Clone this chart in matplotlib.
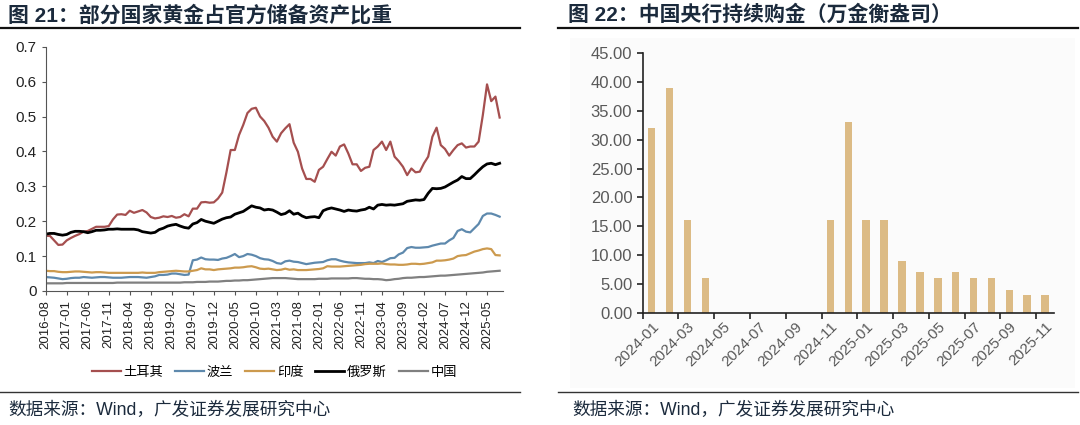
import matplotlib
matplotlib.use('Agg')
import matplotlib.pyplot as plt
from matplotlib.lines import Line2D
from matplotlib.patches import Rectangle
import numpy as np

plt.rcParams['font.family'] = ['Liberation Sans', 'Noto Sans CJK SC', 'DejaVu Sans']

# ---- left chart: gold share of official reserves (monthly, 2016-08 .. 2025-08)
left_ticklabels = ['2016-08', '2017-01', '2017-06', '2017-11', '2018-04', '2018-09',
                   '2019-02', '2019-07', '2019-12', '2020-05', '2020-10', '2021-03',
                   '2021-08', '2022-01', '2022-06', '2022-11', '2023-04', '2023-09',
                   '2024-02', '2024-07', '2024-12', '2025-05']

turkey = [0.158, 0.158, 0.145, 0.132, 0.133, 0.145, 0.152, 0.158, 0.163, 0.170,
          0.172, 0.178, 0.184, 0.184, 0.184, 0.186, 0.205, 0.219, 0.220, 0.218,
          0.230, 0.224, 0.228, 0.232, 0.225, 0.212, 0.208, 0.210, 0.214, 0.212,
          0.215, 0.210, 0.212, 0.220, 0.214, 0.236, 0.236, 0.254, 0.255, 0.253,
          0.254, 0.265, 0.282, 0.340, 0.404, 0.404, 0.447, 0.476, 0.510, 0.522,
          0.525, 0.500, 0.487, 0.468, 0.442, 0.428, 0.452, 0.466, 0.478, 0.425,
          0.399, 0.351, 0.321, 0.321, 0.313, 0.347, 0.356, 0.378, 0.399, 0.388,
          0.414, 0.420, 0.394, 0.363, 0.363, 0.344, 0.353, 0.356, 0.404, 0.414,
          0.428, 0.404, 0.428, 0.385, 0.372, 0.356, 0.332, 0.351, 0.340, 0.342,
          0.366, 0.385, 0.442, 0.468, 0.418, 0.407, 0.388, 0.404, 0.418, 0.423,
          0.411, 0.414, 0.414, 0.428, 0.504, 0.592, 0.544, 0.557, 0.497]

poland = [0.040, 0.039, 0.038, 0.036, 0.034, 0.035, 0.037, 0.038, 0.038, 0.040,
          0.039, 0.038, 0.039, 0.040, 0.040, 0.039, 0.038, 0.038, 0.038, 0.039,
          0.040, 0.040, 0.040, 0.039, 0.038, 0.040, 0.042, 0.046, 0.046, 0.047,
          0.050, 0.050, 0.048, 0.046, 0.047, 0.088, 0.090, 0.096, 0.091, 0.090,
          0.090, 0.089, 0.093, 0.095, 0.100, 0.106, 0.097, 0.100, 0.106, 0.104,
          0.100, 0.094, 0.091, 0.090, 0.086, 0.080, 0.078, 0.085, 0.087, 0.084,
          0.083, 0.080, 0.077, 0.079, 0.081, 0.082, 0.083, 0.088, 0.091, 0.091,
          0.087, 0.084, 0.082, 0.081, 0.080, 0.080, 0.080, 0.082, 0.080, 0.086,
          0.083, 0.088, 0.094, 0.095, 0.105, 0.110, 0.123, 0.126, 0.124, 0.124,
          0.125, 0.126, 0.130, 0.133, 0.136, 0.136, 0.145, 0.152, 0.172, 0.177,
          0.170, 0.168, 0.180, 0.192, 0.215, 0.222, 0.222, 0.218, 0.213]

india = [0.058, 0.057, 0.057, 0.055, 0.054, 0.054, 0.055, 0.056, 0.056, 0.055,
         0.054, 0.053, 0.054, 0.054, 0.053, 0.052, 0.052, 0.052, 0.052, 0.052,
         0.052, 0.052, 0.052, 0.053, 0.052, 0.052, 0.052, 0.054, 0.055, 0.056,
         0.057, 0.058, 0.057, 0.056, 0.056, 0.058, 0.060, 0.065, 0.062, 0.062,
         0.060, 0.062, 0.063, 0.064, 0.065, 0.067, 0.067, 0.068, 0.070, 0.071,
         0.068, 0.064, 0.063, 0.064, 0.062, 0.060, 0.061, 0.064, 0.061, 0.062,
         0.060, 0.060, 0.060, 0.061, 0.062, 0.063, 0.065, 0.071, 0.070, 0.070,
         0.070, 0.071, 0.072, 0.073, 0.074, 0.075, 0.077, 0.078, 0.078, 0.078,
         0.079, 0.077, 0.076, 0.076, 0.075, 0.075, 0.076, 0.078, 0.078, 0.077,
         0.078, 0.080, 0.082, 0.087, 0.087, 0.088, 0.090, 0.093, 0.100, 0.102,
         0.103, 0.108, 0.113, 0.116, 0.120, 0.122, 0.120, 0.103, 0.102]

russia = [0.163, 0.165, 0.165, 0.162, 0.160, 0.162, 0.168, 0.171, 0.171, 0.170,
          0.167, 0.170, 0.174, 0.174, 0.175, 0.177, 0.177, 0.178, 0.177, 0.177,
          0.177, 0.177, 0.175, 0.170, 0.168, 0.166, 0.168, 0.176, 0.180, 0.186,
          0.189, 0.191, 0.186, 0.182, 0.180, 0.192, 0.196, 0.205, 0.200, 0.197,
          0.194, 0.200, 0.206, 0.210, 0.212, 0.220, 0.224, 0.228, 0.236, 0.244,
          0.240, 0.238, 0.232, 0.234, 0.232, 0.226, 0.219, 0.222, 0.230, 0.220,
          0.223, 0.215, 0.210, 0.212, 0.213, 0.210, 0.230, 0.235, 0.238, 0.235,
          0.232, 0.228, 0.232, 0.230, 0.229, 0.232, 0.234, 0.240, 0.235, 0.246,
          0.248, 0.246, 0.247, 0.246, 0.248, 0.250, 0.257, 0.259, 0.261, 0.260,
          0.262, 0.280, 0.294, 0.293, 0.294, 0.298, 0.305, 0.312, 0.318, 0.328,
          0.322, 0.322, 0.333, 0.345, 0.356, 0.364, 0.366, 0.362, 0.366]

china = [0.022, 0.022, 0.022, 0.022, 0.022, 0.023, 0.023, 0.023, 0.023, 0.023,
         0.023, 0.023, 0.023, 0.023, 0.023, 0.023, 0.023, 0.024, 0.024, 0.024,
         0.024, 0.024, 0.024, 0.024, 0.024, 0.024, 0.024, 0.024, 0.024, 0.024,
         0.024, 0.024, 0.024, 0.025, 0.025, 0.025, 0.026, 0.026, 0.026, 0.027,
         0.027, 0.027, 0.028, 0.029, 0.029, 0.030, 0.030, 0.031, 0.031, 0.032,
         0.033, 0.034, 0.035, 0.036, 0.037, 0.037, 0.037, 0.037, 0.036, 0.035,
         0.034, 0.034, 0.034, 0.034, 0.034, 0.035, 0.035, 0.035, 0.036, 0.036,
         0.036, 0.036, 0.036, 0.037, 0.037, 0.036, 0.035, 0.035, 0.034, 0.034,
         0.033, 0.031, 0.032, 0.034, 0.035, 0.037, 0.038, 0.038, 0.039, 0.040,
         0.040, 0.041, 0.042, 0.043, 0.044, 0.044, 0.045, 0.046, 0.047, 0.048,
         0.049, 0.050, 0.051, 0.052, 0.053, 0.055, 0.056, 0.057, 0.058]

series_names = ['土耳其', '波兰', '印度', '俄罗斯', '中国']
series_colors = ['#a54f4f', '#5e89ad', '#cc9a4e', '#000000', '#808080']

# ---- right chart: PBoC gold purchases (10k troy oz)
months = ['2024-01', '2024-02', '2024-03', '2024-04', '2024-05', '2024-06',
          '2024-07', '2024-08', '2024-09', '2024-10', '2024-11', '2024-12',
          '2025-01', '2025-02', '2025-03', '2025-04', '2025-05', '2025-06',
          '2025-07', '2025-08', '2025-09', '2025-10', '2025-11']
purchases = [32, 39, 16, 6, 0, 0, 0, 0, 0, 0, 16, 33,
             16, 16, 9, 7, 6, 7, 6, 6, 4, 3, 3]

title_color = '#1b2a3c'

fig = plt.figure(figsize=(10.8, 4.25), dpi=100)

# light background behind the right panel
fig.patches.append(Rectangle((570 / 1080, 1 - 388 / 425), 505 / 1080, 350 / 425,
                             transform=fig.transFigure, facecolor='#fbfbfb',
                             edgecolor='none', zorder=-10))

# titles and rules
fig.text(8 / 1080, 1 - 15 / 425, '图 21：部分国家黄金占官方储备资产比重', fontsize=15,
         fontweight='bold', color=title_color, va='center', ha='left')
fig.text(568 / 1080, 1 - 15 / 425, '图 22：中国央行持续购金（万金衡盎司）', fontsize=15,
         fontweight='bold', color=title_color, va='center', ha='left')
for x0, x1 in [(0, 520), (558, 1078)]:
    fig.add_artist(Line2D([x0 / 1080, x1 / 1080], [1 - 28 / 425] * 2, color='#111111', lw=1.6))
    fig.add_artist(Line2D([x0 / 1080, x1 / 1080], [1 - 392 / 425] * 2, color='#333333', lw=1.0))
fig.text(8 / 1080, 1 - 410 / 425, '数据来源：Wind，广发证券发展研究中心', fontsize=12.7,
         color=title_color, va='center', ha='left')
fig.text(572 / 1080, 1 - 410 / 425, '数据来源：Wind，广发证券发展研究中心', fontsize=12.7,
         color=title_color, va='center', ha='left')

# ---- left axes
ax1 = fig.add_axes([45.7 / 1080, 1 - 291 / 425, (503 - 45.7) / 1080, (291 - 46.7) / 425])
ax1.patch.set_alpha(0)
x = np.arange(len(turkey))
for vals, name, col in zip([turkey, poland, india, russia, china], series_names, series_colors):
    ax1.plot(x, vals, color=col, lw=2.0 if name == '俄罗斯' else 1.6, label=name)
ax1.set_xlim(0, len(turkey) - 0.2)
ax1.set_ylim(0, 0.7)
ax1.set_yticks(np.arange(0, 0.71, 0.1))
ax1.set_yticklabels(['0', '0.1', '0.2', '0.3', '0.4', '0.5', '0.6', '0.7'])
ax1.set_xticks(np.arange(0, len(turkey), 5)[:len(left_ticklabels)])
ax1.set_xticklabels(left_ticklabels, rotation=90)
for s in ['top', 'right']:
    ax1.spines[s].set_visible(False)
for s in ['left', 'bottom']:
    ax1.spines[s].set_color('#555555')
    ax1.spines[s].set_linewidth(0.8)
ax1.tick_params(axis='both', colors='#555555', labelcolor='#222222', length=3, width=0.8)
ax1.tick_params(axis='y', labelsize=11)
ax1.tick_params(axis='x', labelsize=9.5)
ax1.legend(loc='center', bbox_to_anchor=(0.5, -0.335), ncol=5, frameon=False, fontsize=9.5,
           handlelength=2.2, columnspacing=0.9, handletextpad=0.2)

# ---- right axes
ax2 = fig.add_axes([642.7 / 1080, 1 - 312.7 / 425, (1054 - 642.7) / 1080, (312.7 - 53.3) / 425])
ax2.patch.set_alpha(0)
pos = np.arange(len(months))
ax2.bar(pos, purchases, width=0.42, color='#dcbb85')
ax2.set_xlim(-0.5, len(months) - 0.5)
ax2.set_ylim(0, 45)
ax2.set_yticks(np.arange(0, 46, 5))
ax2.set_yticklabels([f'{v:.2f}' for v in np.arange(0, 46, 5)])
ax2.set_xticks(np.arange(-0.5, len(months) - 0.5, 2))
ax2.set_xticklabels([])
ax2.set_xticks(pos[::2], minor=True)
ax2.set_xticklabels(months[::2], minor=True, rotation=45, ha='right', rotation_mode='anchor')
ax2.tick_params(axis='x', which='minor', length=0, labelsize=11, labelcolor='#595959', pad=5)
ax2.tick_params(axis='x', which='major', length=4, width=1.2, color='#222222')
ax2.tick_params(axis='y', length=4, width=1.2, color='#222222', labelsize=12, labelcolor='#595959')
for s in ['top', 'right']:
    ax2.spines[s].set_visible(False)
for s in ['left', 'bottom']:
    ax2.spines[s].set_color('#222222')
    ax2.spines[s].set_linewidth(1.2)

fig.savefig('out.png', dpi=100)
